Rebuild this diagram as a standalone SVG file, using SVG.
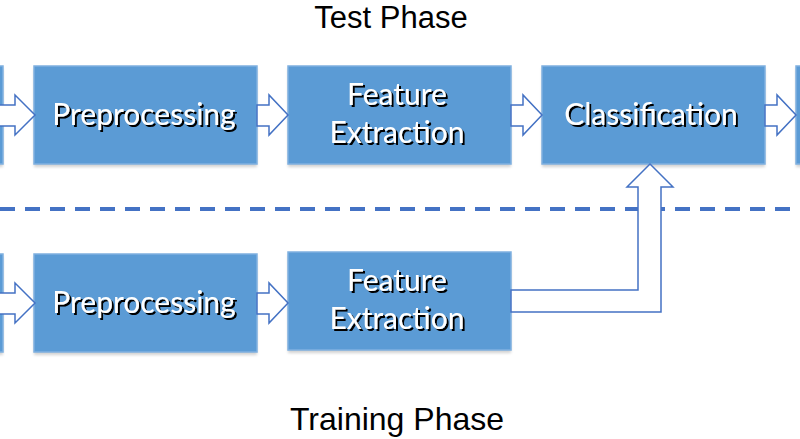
<svg xmlns="http://www.w3.org/2000/svg" width="800" height="439" viewBox="0 0 800 439">
<defs>
<style>
.box{fill:#5b9bd5;stroke:#7fb0e0;stroke-width:1.5}
.shadow{fill:#000;opacity:0.18}
.arr{fill:#fff;stroke:#4472c4;stroke-width:1.5;stroke-linejoin:miter}
.lbl{font-family:Lato,"Open Sans",sans-serif;font-size:30px;text-anchor:middle;fill:#fff;filter:url(#ts)}
.title{font-family:"Liberation Sans",Arial,sans-serif;font-size:32px;fill:#000;text-anchor:middle}
</style>
<filter id="blur" x="-10%" y="-10%" width="120%" height="130%"><feGaussianBlur stdDeviation="1.5"/></filter>
<filter id="ts" x="-10%" y="-20%" width="120%" height="150%"><feDropShadow dx="2" dy="2" stdDeviation="0.3" flood-color="#000" flood-opacity="1"/></filter>
</defs>
<rect width="800" height="439" fill="#fff"/>
<text class="title" x="391" y="28" style="font-size:31px">Test Phase</text>
<text class="title" x="397" y="430">Training Phase</text>
<line x1="0" y1="209" x2="800" y2="209" stroke="#4472c4" stroke-width="4" stroke-dasharray="15 10"/>
<g id="top-left-partial"><rect class="shadow" x="-10" y="68" width="13" height="99" filter="url(#blur)"/><rect class="box" x="-10" y="66" width="13" height="98"/></g>
<g id="top-preprocessing"><rect class="shadow" x="34" y="68" width="223" height="99" filter="url(#blur)"/><rect class="box" x="34" y="66" width="223" height="98"/><text class="lbl" x="144" y="125">Preprocessing</text></g>
<g id="top-feature"><rect class="shadow" x="288" y="68" width="223" height="99" filter="url(#blur)"/><rect class="box" x="288" y="66" width="223" height="98"/><text class="lbl" x="397" y="105">Feature</text><text class="lbl" x="397" y="143">Extraction</text></g>
<g id="top-classification"><rect class="shadow" x="542" y="68" width="223" height="99" filter="url(#blur)"/><rect class="box" x="542" y="66" width="223" height="98"/><text class="lbl" x="651" y="125">Classification</text></g>
<g id="top-right-partial"><rect class="shadow" x="796" y="68" width="20" height="99" filter="url(#blur)"/><rect class="box" x="796" y="66" width="20" height="98"/></g>
<g id="bottom-left-partial"><rect class="shadow" x="-10" y="256" width="13" height="99" filter="url(#blur)"/><rect class="box" x="-10" y="254" width="13" height="98"/></g>
<g id="bottom-preprocessing"><rect class="shadow" x="34" y="256" width="223" height="99" filter="url(#blur)"/><rect class="box" x="34" y="254" width="223" height="98"/><text class="lbl" x="144" y="313">Preprocessing</text></g>
<g id="bottom-feature"><rect class="shadow" x="288" y="254" width="223" height="99" filter="url(#blur)"/><rect class="box" x="288" y="252" width="223" height="98"/><text class="lbl" x="397" y="291">Feature</text><text class="lbl" x="397" y="329">Extraction</text></g>
<g id="connectors">
<path class="arr" d="M-2 105 H15 V95 L35 115 L15 135 V126 H-2 Z"/>
<path class="arr" d="M257 105 H269 V95 L288 115 L269 135 V126 H257 Z"/>
<path class="arr" d="M511 105 H523 V95 L542 115 L523 135 V126 H511 Z"/>
<path class="arr" d="M765 105 H777 V95 L796 115 L777 135 V126 H765 Z"/>
<path class="arr" d="M-2 293 H15 V283 L35 303 L15 323 V314 H-2 Z"/>
<path class="arr" d="M257 293 H269 V283 L288 303 L269 323 V314 H257 Z"/>
<path class="arr" d="M511 290 H638 V187 H627 L650 164 L673 187 H661 V312 H511 Z"/>
</g>
</svg>
